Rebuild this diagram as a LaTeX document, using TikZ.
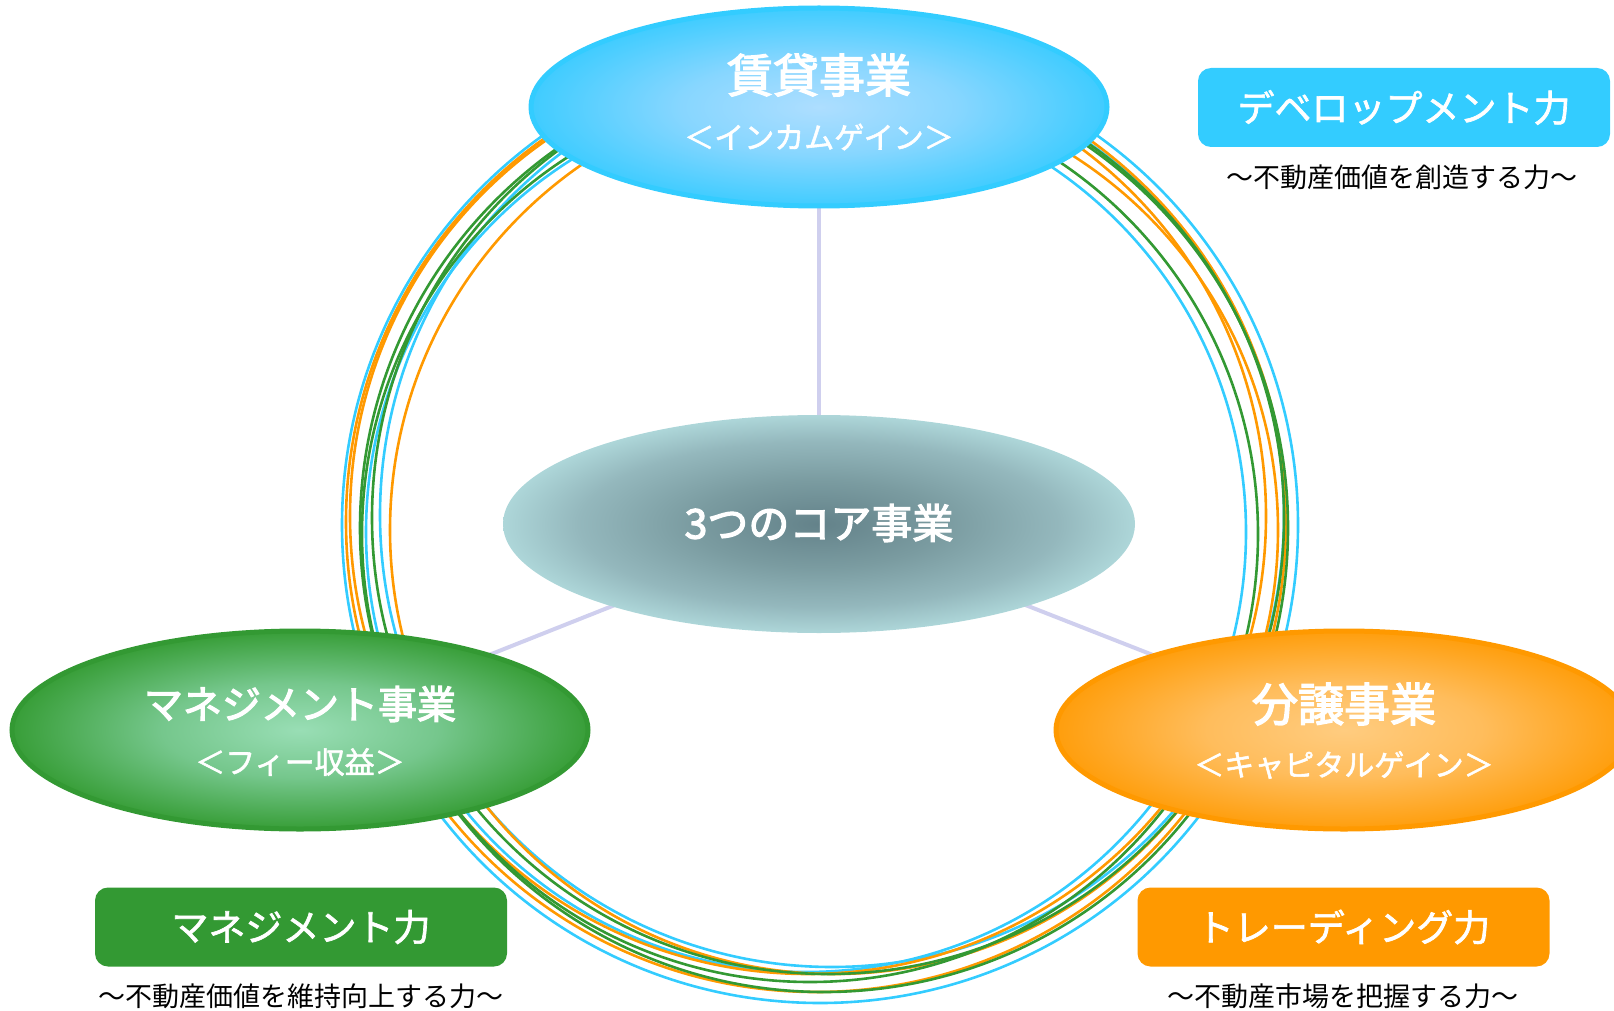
\documentclass[tikz,border=0pt]{standalone}
\usepackage{fontspec}
\newfontfamily\jp{Noto Sans CJK JP}
\newfontfamily\jpm{Noto Sans CJK JP}[FakeBold=3]
\newfontfamily\jpb{Noto Sans CJK JP}[FakeBold=1.8]
\usetikzlibrary{shapes.geometric}
\definecolor{cy}{HTML}{33CCFF}
\definecolor{og}{HTML}{FF9900}
\definecolor{gr}{HTML}{339933}
\definecolor{lav}{HTML}{CFCFEE}
\pgfdeclareradialshading{coresh}{\pgfpoint{0bp}{0bp}}{rgb(0bp)=(0.39,0.51,0.54); rgb(10bp)=(0.48,0.61,0.63); rgb(19bp)=(0.58,0.72,0.74); rgb(25bp)=(0.68,0.84,0.85); rgb(50bp)=(0.68,0.84,0.85)}
\pgfdeclareradialshading{rentsh}{\pgfpoint{0bp}{0bp}}{rgb(0bp)=(0.68,0.87,1); rgb(12bp)=(0.53,0.84,1); rgb(25bp)=(0.25,0.80,1); rgb(50bp)=(0.25,0.80,1)}
\pgfdeclareradialshading{mgmtsh}{\pgfpoint{0bp}{0bp}}{rgb(0bp)=(0.60,0.87,0.71); rgb(12bp)=(0.46,0.78,0.55); rgb(25bp)=(0.22,0.62,0.22); rgb(50bp)=(0.22,0.62,0.22)}
\pgfdeclareradialshading{salesh}{\pgfpoint{0bp}{0bp}}{rgb(0bp)=(1,0.80,0.50); rgb(12bp)=(1,0.74,0.36); rgb(25bp)=(1,0.62,0.05); rgb(50bp)=(1,0.62,0.05)}
\begin{document}
\begin{tikzpicture}[x=1pt,y=-1pt,
  ring/.style={line width=2.6pt},
  bizell/.style={ellipse, minimum width=576pt, minimum height=198pt, inner sep=0pt, line width=5pt},
  ttl/.style={text=white, font=\jpm\fontsize{46}{50}\selectfont, inner sep=0pt},
  sub/.style={text=white, font=\jpb\fontsize{30}{34}\selectfont, inner sep=0pt},
  powbox/.style={rounded corners=13pt, minimum width=412pt, minimum height=79pt, inner sep=0pt, text=white, font=\jpb\fontsize{37}{40}\selectfont},
  powsub/.style={text=black, font=\jp\fontsize{27}{30}\selectfont, inner sep=0pt},
  link/.style={lav, line width=4pt}]
\useasboundingbox (0,0) rectangle (1614,1011);
% connector anchors
\coordinate (core) at (819,524);
\coordinate (ctop) at (819,107);
\coordinate (cleft) at (300,730);
\coordinate (cright) at (1344,730);
\draw[link] (core) -- (ctop);
\draw[link] (core) -- (cleft);
\draw[link] (core) -- (cright);
% rings
\draw[ring, cy] (820,525) circle[radius=478];
\draw[ring, cy] (832,515) circle[radius=452];
\draw[ring, cy] (806,532) circle[radius=440];
\draw[ring, og] (816,522) circle[radius=470];
\draw[ring, og] (834,530) circle[radius=444];
\draw[ring, og] (808,516) circle[radius=458];
\draw[ring, gr] (824,528) circle[radius=464];
\draw[ring, gr] (810,534) circle[radius=448];
\draw[ring, gr] (828,518) circle[radius=456];
% ellipses
\node[bizell, draw=cy, shading=rentsh] (rent) at (ctop) {};
\node[ellipse, minimum width=632pt, minimum height=218pt, inner sep=0pt, shading=coresh] (corenode) at (core) {};
\node[bizell, draw=gr, shading=mgmtsh] (mgmt) at (cleft) {};
\node[bizell, draw=og, shading=salesh] (sale) at (cright) {};
% ellipse texts
\node[ttl] (rentT) at (819,75) {賃貸事業};
\node[sub] (rentS) at (819,137) {＜インカムゲイン＞};
\node[ttl, font=\jpm\fontsize{41}{44}\selectfont] (coreT) at (819,523) {3つのコア事業};
\node[ttl, font=\jpm\fontsize{39}{44}\selectfont] (mgmtT) at (300,704) {マネジメント事業};
\node[sub] (mgmtS) at (300,762) {＜フィー収益＞};
\node[ttl] (saleT) at (1344,704) {分譲事業};
\node[sub] (saleS) at (1344,765) {＜キャピタルゲイン＞};
% power boxes
\node[powbox, fill=cy] (devbox) at (1404,107.5) {デベロップメント力};
\node[powsub] (devsub) at (1402,177) {～不動産価値を創造する力～};
\node[powbox, fill=gr] (mgbox) at (301,927) {マネジメント力};
\node[powsub] (mgsub) at (301,996) {～不動産価値を維持向上する力～};
\node[powbox, fill=og] (trbox) at (1343.5,927) {トレーディング力};
\node[powsub] (trsub) at (1343,996) {～不動産市場を把握する力～};
\end{tikzpicture}
\end{document}
